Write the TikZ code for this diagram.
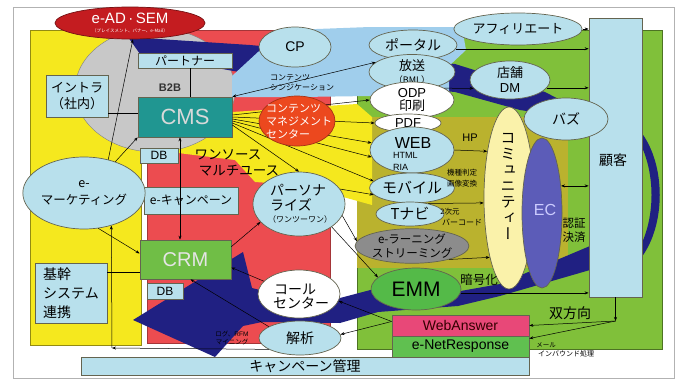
\documentclass[tikz,border=0pt]{standalone}
\usepackage{fontspec}
\setmainfont{Noto Sans CJK JP}
\newfontfamily\vjp[RawFeature={+vert}]{Noto Sans CJK JP}
\newfontfamily\lat{Liberation Sans}
\usetikzlibrary{shapes.geometric,arrows.meta}
\newcommand\fsz[2]{\fontsize{#1}{#2}\selectfont}
\definecolor{ylw}{RGB}{245,232,30}
\definecolor{rdc}{RGB}{236,76,80}
\definecolor{grn}{RGB}{128,192,58}
\definecolor{olv}{RGB}{186,178,46}
\definecolor{lb}{RGB}{184,224,236}
\definecolor{lbs}{RGB}{160,206,236}
\definecolor{navyc}{RGB}{32,32,130}
\definecolor{gry}{RGB}{200,200,200}
\definecolor{cmsc}{RGB}{32,150,145}
\definecolor{orc}{RGB}{236,72,30}
\definecolor{eadc}{RGB}{196,28,32}
\definecolor{comc}{RGB}{250,242,170}
\definecolor{ecc}{RGB}{92,92,184}
\definecolor{elc}{RGB}{140,140,140}
\definecolor{emmc}{RGB}{84,186,72}
\definecolor{crmc}{RGB}{112,190,70}
\definecolor{pinkc}{RGB}{232,72,120}
\definecolor{netc}{RGB}{96,192,80}
\definecolor{bord}{RGB}{100,100,80}
\tikzset{
 bx/.style={draw=bord, line width=0.7pt, fill=lb, inner sep=0pt, align=center},
 el/.style={ellipse, draw=bord, line width=0.7pt, fill=lb, inner sep=0pt, align=center},
 arr/.style={-{Stealth[length=4pt,width=3pt]}, line width=0.5pt},
 arrb/.style={{Stealth[length=4pt,width=3pt]}-{Stealth[length=4pt,width=3pt]}, line width=0.5pt},
 ln/.style={line width=0.5pt},
 tx/.style={inner sep=0pt, align=center},
}
\begin{document}
\begin{tikzpicture}[x=1pt,y=-1pt]
\useasboundingbox (0,0) rectangle (683,380);
\fill[white] (0,0) rectangle (683,380);
\draw[gray!60, line width=0.8pt] (13,7) rectangle (674,378);
% background panels
\filldraw[fill=ylw, draw=ylw!60!black, line width=0.5pt] (30,30) rectangle (141,345);
\filldraw[fill=rdc, draw=rdc!70!black, line width=0.5pt] (147,30) rectangle (330,343);
\filldraw[fill=grn, draw=grn!60!black, line width=0.5pt] (357,30) rectangle (662,349);
\fill[olv] (357,117) rectangle (568,268);
% yellow wedge
\fill[ylw] (232,112) -- (357,104) -- (372,117) -- (372,205) -- (300,185) -- (255,182) -- (235,160) -- (178,153) -- (178,137) -- (232,137) -- cycle;
% gray circle
\filldraw[fill=gry, draw=gray, line width=0.4pt] (155,90) ellipse [x radius=80pt, y radius=62pt];
% navy band top
\fill[navyc] (128,37) -- (250,45) -- (455,64) -- (545,92) -- (568,104) -- (560,116) -- (520,110) -- (455,92) -- (250,74) -- (140,54) -- cycle;
% light blue sheet
\fill[lbs] (232,97) -- (232,76) -- (258,52) -- (290,30) -- (370,27) -- (462,27) -- (466,50) -- (449,66) -- (449,92) -- (370,96) -- (300,97) -- cycle;
% navy bottom swoosh
\fill[navyc] (133,320) -- (243,252) -- (252,288) -- (300,300) -- (340,298) -- (378,288) -- (455,292) -- (500,284) -- (590,246) -- (590,270) -- (500,296) -- (458,306) -- (378,312) -- (340,323) -- (262,322) -- (243,326) -- (215,357) -- cycle;
% right crescent
\fill[navyc] (641,132) .. controls (666,165) and (666,225) .. (641,258) -- (641,245) .. controls (655,215) and (655,175) .. (641,145) -- cycle;

% ---------- nodes ----------
\node[el, fill=eadc, draw=eadc!60!black, minimum width=150pt, minimum height=32pt] (ead) at (130,23) {};
\node[bx, minimum width=94pt, minimum height=15pt, font=\fsz{12}{12}] (partner) at (185,60.5) {パートナー};
\node[bx, minimum width=62pt, minimum height=42pt, font=\fsz{13}{16}] (intra) at (77,96) {イントラ\\（社内）};
\node[bx, fill=cmsc, minimum width=94pt, minimum height=40pt, text=white!85!black, font=\lat\fsz{22}{22}] (cms) at (185,117) {CMS};
\node[bx, minimum width=38pt, minimum height=15pt, font=\lat\fsz{12}{12}] (db1) at (159,155.5) {DB};
\node[bx, minimum width=94pt, minimum height=27pt, font=\fsz{12}{12}] (ecamp) at (191,200.5) {e-キャンペーン};
\node[el, minimum width=108pt, minimum height=72pt, font=\fsz{12.5}{17}] (emk) at (84,193) {e-\\マーケティング};
\node[bx, fill=crmc, minimum width=91pt, minimum height=39pt, text=white!90!black, font=\lat\fsz{20}{20}] (crm) at (185.5,259.5) {CRM};
\node[bx, minimum width=36pt, minimum height=16pt, font=\lat\fsz{12}{12}] (db2) at (165,291) {DB};
\node[bx, minimum width=72pt, minimum height=60pt, font=\fsz{14}{19}, align=left] (kikan) at (71,293) {基幹\\システム\\連携};
\node[el, minimum width=72pt, minimum height=40pt, font=\lat\fsz{14}{14}] (cp) at (295,47) {CP};
\node[el, minimum width=88pt, minimum height=30pt, font=\fsz{14}{14}] (portal) at (413,45) {ポータル};
\node[el, minimum width=86pt, minimum height=28pt, font=\fsz{13}{13}] (housou) at (412,72) {放送\\{\fsz{9}{9}（BML）}};
\node[el, fill=white, minimum width=84pt, minimum height=36pt, font=\fsz{13}{13}] (odp) at (412,100) {{\lat ODP}\\印刷};
\node[el, fill=white, minimum width=66pt, minimum height=18pt, font=\lat\fsz{13}{13}] (pdf) at (408,123) {PDF};
\node[el, minimum width=84pt, minimum height=46pt] (web) at (412,150) {};
\node[el, minimum width=82pt, minimum height=30pt, font=\fsz{15}{15}] (mobile) at (412,188) {モバイル};
\node[el, minimum width=68pt, minimum height=24pt, font=\fsz{15}{15}] (tnavi) at (410,214) {Tナビ};
\node[el, fill=elc, minimum width=86pt, minimum height=34pt, font=\fsz{11.5}{14}] (elearn) at (412,246) {e-ラーニング\\ストリーミング};
\node[el, fill=emmc, minimum width=90pt, minimum height=42pt, font=\lat\fsz{21}{21}] (emm) at (416,289) {EMM};
\node[el, fill=comc, minimum width=50pt, minimum height=182pt] (community) at (509,198) {};
\node[el, fill=ecc, minimum width=40pt, minimum height=150pt] (ec) at (542,213) {};
\node[bx, minimum width=53pt, minimum height=279pt] (customer) at (615.5,157.5) {};
\node[el, minimum width=106pt, minimum height=32pt, font=\fsz{13}{13}] (affiliate) at (518,29) {アフィリエート};
\node[el, minimum width=80pt, minimum height=38pt, font=\fsz{13}{15}] (store) at (510,80) {店舗\\{\lat DM}};
\node[el, minimum width=84pt, minimum height=42pt, font=\fsz{14}{14}] (buzz) at (566,119) {バズ};
\node[el, minimum width=92pt, minimum height=64pt] (persona) at (299,204) {};
\node[el, fill=white, minimum width=82pt, minimum height=48pt] (call) at (299,294) {};
\node[el, minimum width=82pt, minimum height=34pt, font=\fsz{14}{14}] (kaiseki) at (300,338) {解析};
\node[bx, fill=pinkc, minimum width=137pt, minimum height=21pt, text=black!80!red, font=\lat\fsz{14}{14}] (webanswer) at (460.5,325.5) {WebAnswer};
\node[bx, fill=netc, minimum width=137pt, minimum height=21pt, font=\lat\fsz{14}{14}] (enet) at (460.5,346.5) {e-NetResponse};
\node[bx, minimum width=448pt, minimum height=18pt, font=\fsz{14}{14}] (campaign) at (305,366) {キャンペーン管理};

% ---------- fan of connectors from CMS (under the content-management circle) ----------
\draw[arr] ([yshift=2pt]cms.east) -- (odp.west);
\draw[arr] (cms.east) -- (pdf.west);
\draw[arr] ([yshift=-2pt]cms.east) -- (web.170);
\draw[arr] ([yshift=-4pt]cms.east) -- (web.190);
\draw[arr] ([yshift=-6pt]cms.east) -- (mobile.170);
\draw[arr] ([yshift=-8pt]cms.east) -- (persona.north);

\node[el, fill=orc, draw=orc!70!black, minimum width=76pt, minimum height=50pt] (cmc) at (297,121) {};

\coordinate (c1) at (112,348);
\coordinate (sp) at (615.5,321);

% ---------- texts ----------
\node[tx, text=white, font=\lat\fsz{15}{15}] (tead1) at (130,18) {e-AD\,·\,SEM};
\node[tx, text=white, font=\fsz{4.5}{4.5}] (tead2) at (130,31) {（プレイスメント、バナー、e-Mail）};
\node[tx, font=\lat\bfseries\fsz{11}{11}, text=black!80] (tb2b) at (170,88) {B2B};
\node[tx, font=\fsz{13.5}{13.5}] (tos1) at (228,155) {ワンソース};
\node[tx, font=\fsz{13.5}{13.5}] (tos2) at (239,171) {マルチユース};
\node[tx, font=\fsz{8}{10}, align=left, anchor=west] (tsyn) at (270,83) {コンテンツ\\シンジケーション};
\node[tx, text=white, font=\fsz{11}{13}, align=left, anchor=west] (tcmc) at (266,122) {コンテンツ\\マネジメント\\センター};
\node[tx, font=\lat\fsz{16}{16}] (tweb) at (413,143) {WEB};
\node[tx, font=\lat\fsz{9}{9}, anchor=west] (thtml) at (393,155) {HTML};
\node[tx, font=\lat\fsz{9}{9}, anchor=west] (tria) at (393,167) {RIA};
\node[tx, font=\lat\fsz{11}{11}] (thp) at (470,138) {HP};
\node[tx, font=\fsz{7.5}{11}] (tkishu) at (462,178.5) {機種判定\\画像変換};
\node[tx, font=\fsz{7.5}{7.5}] (t2d1) at (450,212) {2次元};
\node[tx, font=\fsz{8}{8}] (t2d2) at (462,222) {バーコード};
\node[tx, font=\fsz{12.5}{12.5}] (tango) at (479,280) {暗号化};
\node[tx, font=\vjp\fsz{15}{16}] (tcom) at (508,186) {コ\\ミ\\ュ\\ニ\\テ\\ィ\\ー};
\node[tx, text=white!80!blue, font=\lat\fsz{16}{16}] (tec) at (545,210) {EC};
\node[tx, font=\fsz{11.5}{14}] (tninsho) at (574,230) {認証\\決済};
\node[tx, font=\fsz{14}{14}] (tkokyaku) at (613,160) {顧客};
\node[tx, font=\fsz{14}{14}, anchor=west] (tp1) at (270,190) {パーソナ};
\node[tx, font=\fsz{14}{14}, anchor=west] (tp2) at (270,205) {ライズ};
\node[tx, font=\fsz{8}{8}, anchor=west] (tp3) at (268,219) {（ワンツーワン）};
\node[tx, font=\fsz{14}{14}, anchor=west] (tc1) at (274,289) {コール};
\node[tx, font=\fsz{14}{14}, anchor=west] (tc2) at (273,303) {センター};
\node[tx, font=\fsz{6.5}{8}] (tlog) at (232,338) {ログ、{\lat RFM}\\マイニング};
\node[tx, font=\fsz{14}{14}] (tsoho) at (570,313) {双方向};
\node[tx, font=\fsz{6.5}{6.5}] (tmail1) at (546,345) {メール};
\node[tx, font=\fsz{7}{7}] (tmail2) at (566,354) {インバウンド処理};

% ---------- connectors ----------
\draw[arr] (emk.54) -- (ead.-80);
\draw[arr] (emk.45) -- (cms.south west);
\draw[arr] (emk.-68) -- ([yshift=6pt]crm.west);
\draw[arr] (kaiseki.200) -- (c1);
\draw[arr] (c1) -- (emk.-50);
\draw[ln] ([yshift=-17pt]intra.east) -- ([yshift=-17pt]intra.east -| cms.west);
\draw[ln] ([xshift=5pt]partner.south) -- ([xshift=5pt]cms.north);
\draw[ln] ([yshift=21pt]kikan.east) -- ([yshift=21pt]kikan.east -| crm.west);
\draw[arrb] ([xshift=-5pt]cms.south) -- ([xshift=-5pt]cms.south |- crm.north);
\draw[arr] ([yshift=-7pt]crm.north east) -- (persona.205);
\draw[arr] (call.160) -- ([yshift=-8pt]crm.east);
\draw[arr] (kaiseki.160) -- ([xshift=5pt]crm.south);
\draw[arr] ([yshift=4pt]webanswer.west) -- (call.-10);
\draw[arr] ([yshift=4pt]webanswer.west) -- (kaiseki.5);
\draw[arr] (customer.south) -- (sp);
\draw[arr] (sp) -- (webanswer.east);
\draw[arr] (sp) -- ([yshift=8pt]enet.east);
\draw[arr] (emm.-5) -- (emm.-5 -| customer.west);
\draw[arr] (elearn.-20) -- (community.252);
\draw[arr] (tnavi.30) -- (community.191);
\draw[arr] (web.east) -- (community.115);
\draw[arrb] (ec.55) -- (ec.55 -| customer.west);
\draw[arr] (store.-12) -- (store.-12 -| customer.west);
\draw[arr] (odp.20) -- (store.193);
\draw[arr] (portal.-5) -- (portal.-5 -| customer.west);
\draw[arr] (affiliate.east) -- (affiliate.east -| customer.west);
\draw[arrb] (cms.north east) -- (housou.165);
\draw[arr] (persona.20) -- (mobile.190);
\draw[arr] (persona.-15) -- (elearn.175);
\draw[arr] (persona.-35) -- (emm.163);
\end{tikzpicture}
\end{document}
